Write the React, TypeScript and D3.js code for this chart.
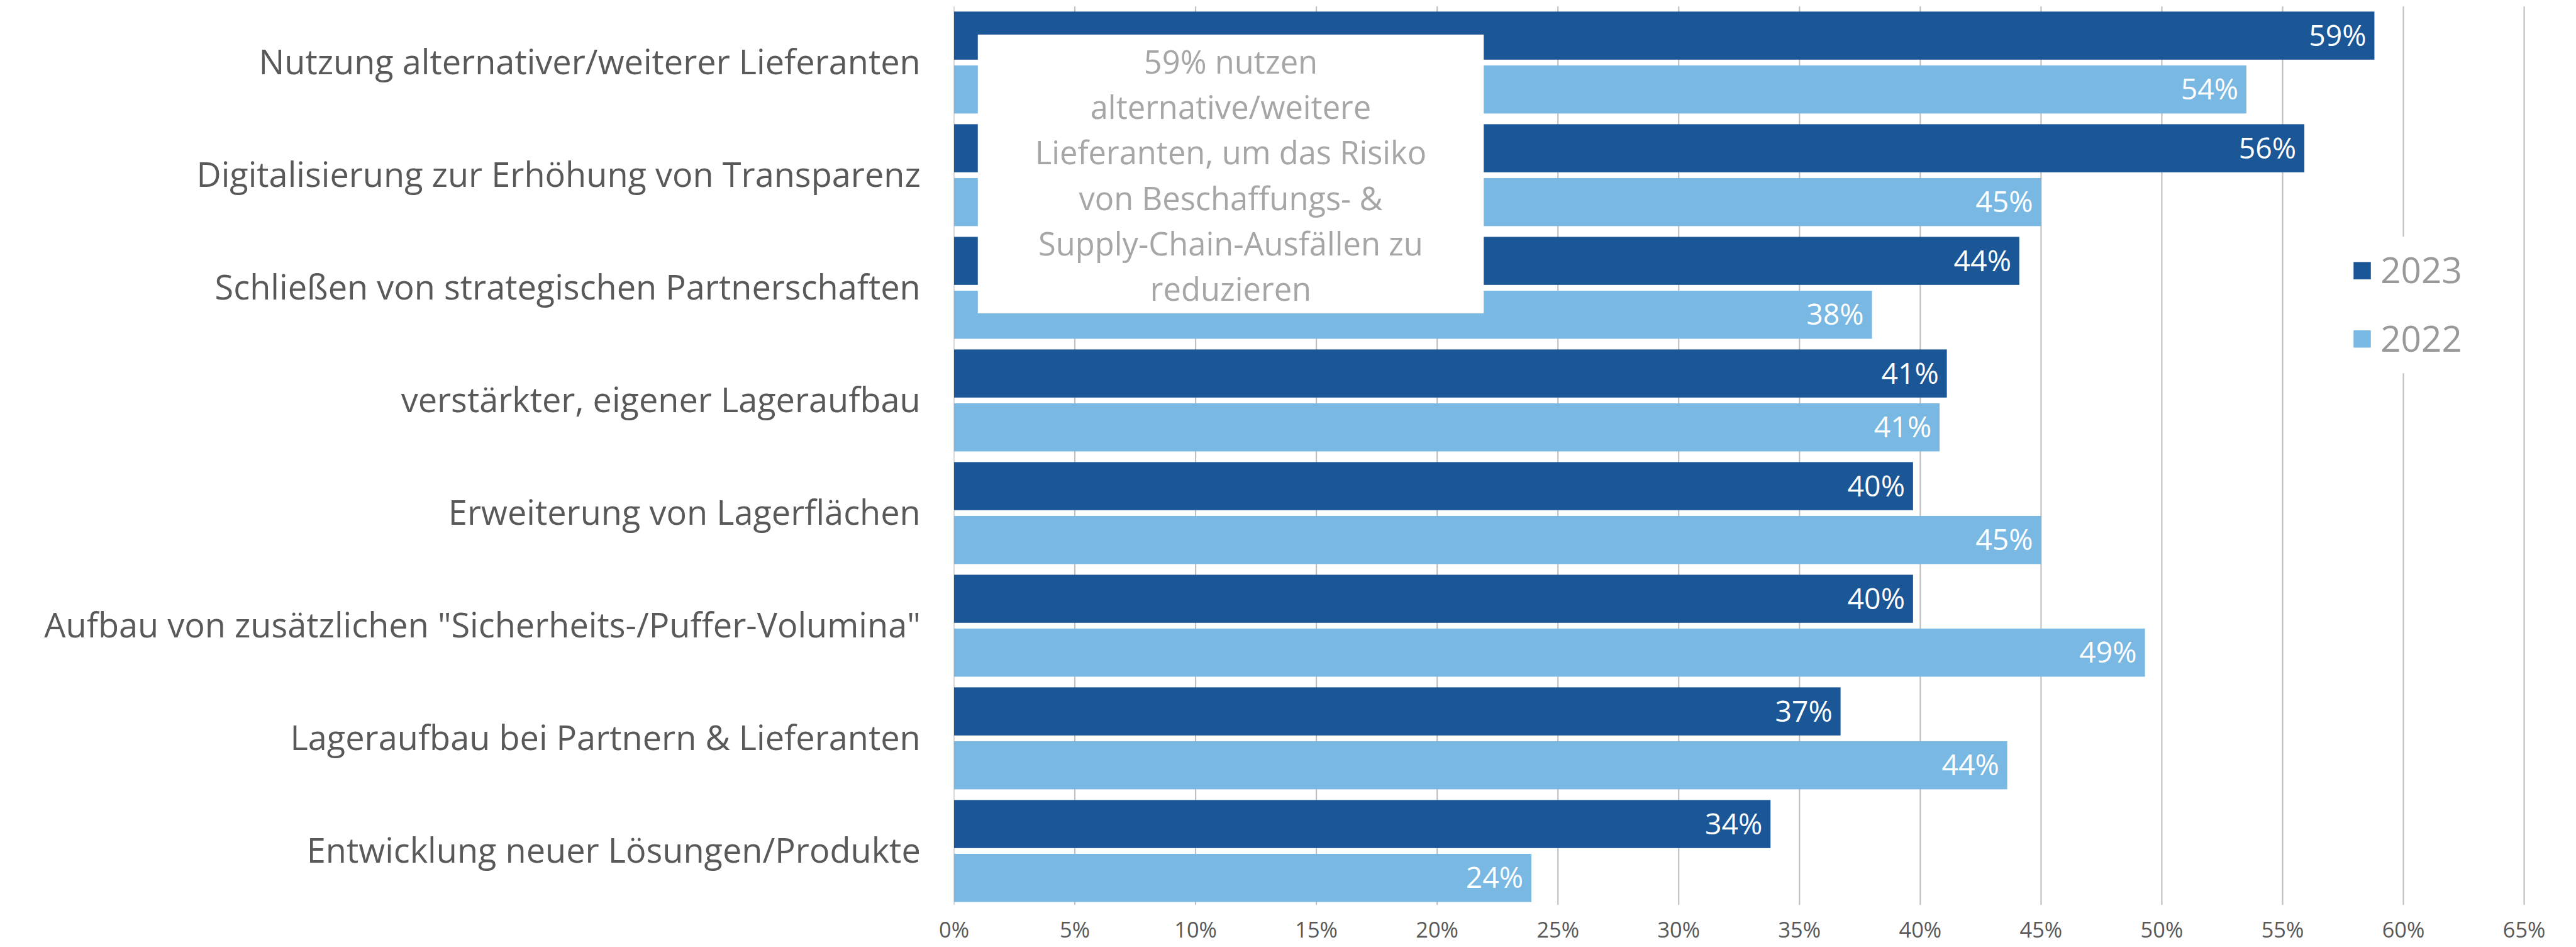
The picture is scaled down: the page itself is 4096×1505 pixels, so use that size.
import React from 'react';
import * as d3 from 'd3';

// Kategorien (von oben nach unten)
const categories = [
  'Nutzung alternativer/weiterer Lieferanten',
  'Digitalisierung zur Erhöhung von Transparenz',
  'Schließen von strategischen Partnerschaften',
  'verstärkter, eigener Lageraufbau',
  'Erweiterung von Lagerflächen',
  'Aufbau von zusätzlichen "Sicherheits-/Puffer-Volumina"',
  'Lageraufbau bei Partnern & Lieferanten',
  'Entwicklung neuer Lösungen/Produkte',
];

const seriesNames = ['2023', '2022'];
const values2023 = [58.8, 55.9, 44.1, 41.1, 39.7, 39.7, 36.7, 33.8];
const values2022 = [53.5, 45.0, 38.0, 40.8, 45.0, 49.3, 43.6, 23.9];
const xTicks = [0, 5, 10, 15, 20, 25, 30, 35, 40, 45, 50, 55, 60, 65];

const noteLines = [
  '59% nutzen',
  'alternative/weitere',
  'Lieferanten, um das Risiko',
  'von Beschaffungs- &',
  'Supply-Chain-Ausfällen zu',
  'reduzieren',
];

const W = 4771;
const H = 1753;
const FONT = "'Open Sans', 'Noto Sans', sans-serif";
const colors: Record<string, string> = { '2023': '#1B5797', '2022': '#78B8E2' };

export default function App() {
  const x = d3.scaleLinear().domain([0, 65]).range([1767, 4675]);
  const y = d3.scaleBand<string>()
    .domain(categories)
    .range([11.5, 1679.5])
    .paddingInner(0.095)
    .paddingOuter(0.0475);
  const ys = d3.scaleBand<string>()
    .domain(seriesNames)
    .range([0, y.bandwidth()])
    .paddingInner(0.107);

  const rows = categories.map((c, i) => ({
    cat: c,
    vals: { '2023': values2023[i], '2022': values2022[i] } as Record<string, number>,
  }));

  return (
    <svg
      width={4096}
      height={1505}
      viewBox={`0 0 ${W} ${H}`}
      style={{ position: 'fixed', left: 0, top: 0, background: '#fff' }}
      fontFamily={FONT}
    >
      <rect x={0} y={0} width={W} height={H} fill="#fff" />

      {/* Gitterlinien */}
      {xTicks.map((t) => (
        <line
          key={'g' + t}
          x1={x(t)}
          x2={x(t)}
          y1={12}
          y2={1675}
          stroke={t === 0 ? '#D9D9D9' : '#BFBFBF'}
          strokeWidth={2.5}
        />
      ))}

      {/* Achsenbeschriftung */}
      {xTicks.map((t) => (
        <text
          key={'t' + t}
          x={x(t)}
          y={1722}
          dy="0.35em"
          textAnchor="middle"
          fontSize={40}
          fill="#595959"
        >
          {t}%
        </text>
      ))}

      {/* Balken */}
      {rows.map((r) => (
        <g key={r.cat} transform={`translate(0,${y(r.cat)})`}>
          {seriesNames.map((s) => {
            const v = r.vals[s];
            const by = ys(s)!;
            return (
              <g key={s}>
                <rect
                  x={x(0)}
                  y={by}
                  width={x(v) - x(0)}
                  height={ys.bandwidth()}
                  fill={colors[s]}
                />
                <text
                  x={x(v) - 15}
                  y={by + ys.bandwidth() / 2}
                  dy="0.35em"
                  textAnchor="end"
                  fontSize={54}
                  fill="#fff"
                >
                  {Math.round(v)}%
                </text>
              </g>
            );
          })}
          <text
            x={1705}
            y={y.bandwidth() / 2}
            dy="0.35em"
            textAnchor="end"
            fontSize={63}
            fill="#595959"
          >
            {r.cat}
          </text>
        </g>
      ))}

      {/* Hinweisbox */}
      <rect x={1811} y={64} width={937} height={516} fill="#fff" />
      {noteLines.map((l, i) => (
        <text
          key={l}
          x={2279.5}
          y={136 + i * 84.2}
          textAnchor="middle"
          fontSize={59}
          fill="#A6A6A6"
        >
          {l}
        </text>
      ))}

      {/* Legende */}
      <rect x={4330} y={438} width={250} height={253} fill="#fff" />
      {seriesNames.map((s, i) => (
        <g key={'l' + s} transform={`translate(4359,${485 + i * 126.5})`}>
          <rect x={0} y={0} width={32} height={32} fill={colors[s]} />
          <text x={50} y={16} dy="0.35em" fontSize={66} fill="#999999">
            {s}
          </text>
        </g>
      ))}
    </svg>
  );
}
